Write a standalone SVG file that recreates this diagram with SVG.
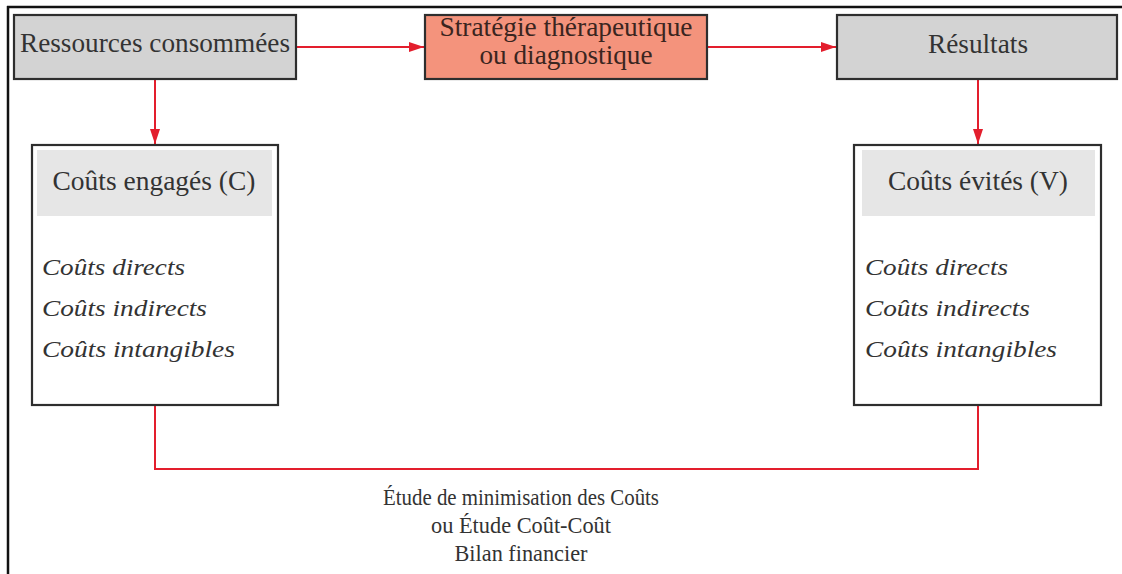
<svg xmlns="http://www.w3.org/2000/svg" width="1122" height="574" viewBox="0 0 1122 574">
  <style>
    .frame { stroke: #111; stroke-width: 2.5; fill: none; }
    .box { stroke: #2e2e2e; stroke-width: 2.2; }
    .grey { fill: #d3d3d3; }
    .salmon { fill: #f4937c; }
    .panel { fill: #ffffff; }
    .band { fill: #e6e6e6; }
    .wire { stroke: #e31e2d; stroke-width: 2; fill: none; }
    .t { font-family: "Liberation Serif", "Times New Roman", serif; fill: #333; text-anchor: middle; }
    .dark { fill: #3a2520; }
    .tl { font-family: "Liberation Serif", "Times New Roman", serif; fill: #333; font-style: italic; }
  </style>
  <defs>
    <marker id="arrow" markerUnits="userSpaceOnUse" markerWidth="16" markerHeight="11" refX="15" refY="5" orient="auto">
      <path d="M0,0 L15,5 L0,10 Z" fill="#e31e2d"/>
    </marker>
  </defs>

  <rect width="1122" height="574" fill="#ffffff"/>
  <!-- page frame: top and left rules only -->
  <line class="frame" x1="7" y1="7" x2="1122" y2="7"/>
  <line class="frame" x1="8" y1="6" x2="8" y2="574"/>

  <g id="connectors">
    <line class="wire" x1="296" y1="47" x2="424" y2="47" marker-end="url(#arrow)"/>
    <line class="wire" x1="707" y1="47" x2="836" y2="47" marker-end="url(#arrow)"/>
    <line class="wire" x1="155" y1="80" x2="155" y2="144" marker-end="url(#arrow)"/>
    <line class="wire" x1="978" y1="80" x2="978" y2="144" marker-end="url(#arrow)"/>
    <polyline class="wire" points="155,406 155,469 978,469 978,406"/>
  </g>

  <g id="ressources">
    <rect class="box grey" x="14" y="15" width="282" height="64"/>
    <text class="t" x="155" y="52" font-size="27" textLength="270" lengthAdjust="spacingAndGlyphs">Ressources consommées</text>
  </g>

  <g id="strategie">
    <rect class="box salmon" x="425" y="15" width="282" height="64"/>
    <text class="t dark" x="566" y="36" font-size="27" textLength="253" lengthAdjust="spacingAndGlyphs">Stratégie thérapeutique</text>
    <text class="t dark" x="566" y="64" font-size="27" textLength="173" lengthAdjust="spacingAndGlyphs">ou diagnostique</text>
  </g>

  <g id="resultats">
    <rect class="box grey" x="837" y="15" width="280" height="64"/>
    <text class="t" x="978" y="53" font-size="27" textLength="100" lengthAdjust="spacingAndGlyphs">Résultats</text>
  </g>

  <g id="couts-engages">
    <rect class="box panel" x="32" y="145" width="246" height="260"/>
    <rect class="band" x="37" y="150" width="235" height="66"/>
    <text class="t" x="154" y="190" font-size="27.5" textLength="203" lengthAdjust="spacingAndGlyphs">Coûts engagés (C)</text>
    <text class="tl" x="42" y="275" font-size="23" textLength="143" lengthAdjust="spacingAndGlyphs">Coûts directs</text>
    <text class="tl" x="42" y="316" font-size="23" textLength="165" lengthAdjust="spacingAndGlyphs">Coûts indirects</text>
    <text class="tl" x="42" y="357" font-size="23" textLength="193" lengthAdjust="spacingAndGlyphs">Coûts intangibles</text>
  </g>

  <g id="couts-evites">
    <rect class="box panel" x="854" y="145" width="247" height="260"/>
    <rect class="band" x="862" y="150" width="233" height="66"/>
    <text class="t" x="978" y="190" font-size="27.5" textLength="180" lengthAdjust="spacingAndGlyphs">Coûts évités (V)</text>
    <text class="tl" x="865" y="275" font-size="23" textLength="143" lengthAdjust="spacingAndGlyphs">Coûts directs</text>
    <text class="tl" x="865" y="316" font-size="23" textLength="165" lengthAdjust="spacingAndGlyphs">Coûts indirects</text>
    <text class="tl" x="865" y="357" font-size="23" textLength="192" lengthAdjust="spacingAndGlyphs">Coûts intangibles</text>
  </g>

  <g id="bilan">
    <text class="t" x="521" y="505" font-size="24" textLength="276" lengthAdjust="spacingAndGlyphs">Étude de minimisation des Coûts</text>
    <text class="t" x="521" y="533" font-size="24" textLength="180" lengthAdjust="spacingAndGlyphs">ou Étude Coût-Coût</text>
    <text class="t" x="521" y="561" font-size="24" textLength="133" lengthAdjust="spacingAndGlyphs">Bilan financier</text>
  </g>
</svg>
